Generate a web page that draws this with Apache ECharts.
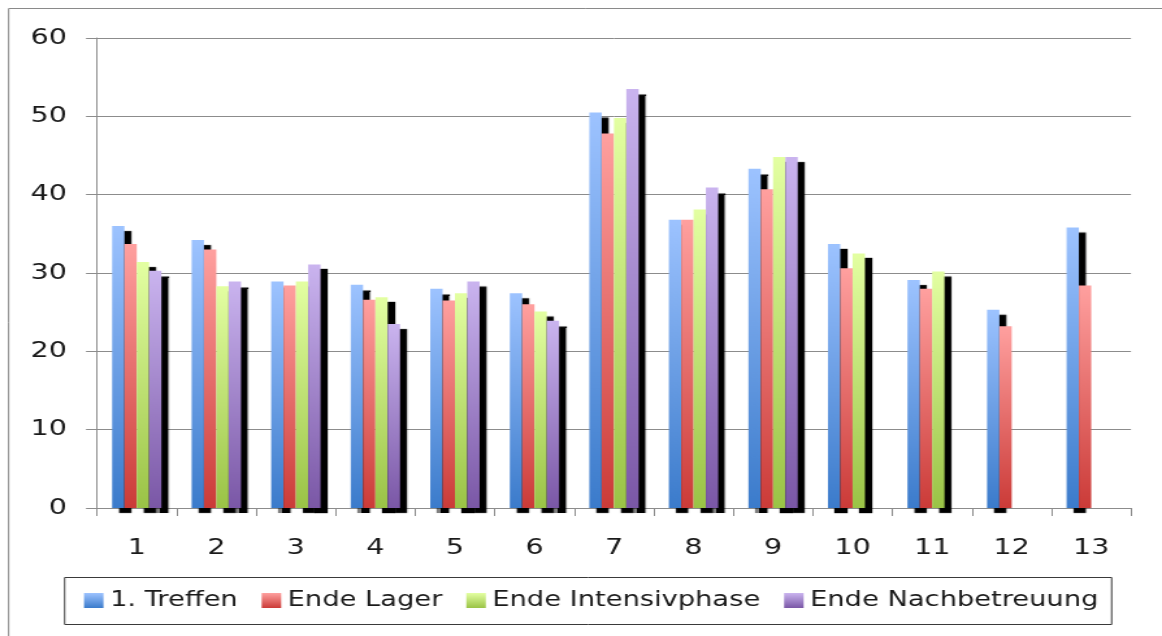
<!DOCTYPE html>
<html>
<head>
<meta charset="utf-8">
<script src="https://cdn.jsdelivr.net/npm/echarts@6/dist/echarts.min.js"></script>
<style>
  html, body { margin: 0; padding: 0; background: #fff; overflow: hidden; }
  /* The chart is laid out on a narrower canvas and widened horizontally,
     which gives the broad lettering and bars of the finished figure. */
  #chart { width: 894px; height: 636px; transform-origin: 0 0; transform: scaleX(1.29978); }
</style>
</head>
<body>
<div id="chart"></div>
<script>
// Measurement points (Treffen 1..13)
const categories = ['1', '2', '3', '4', '5', '6', '7', '8', '9', '10', '11', '12', '13'];

// Values per phase; null where no measurement exists
const treffen       = [36.0, 34.2, 28.9, 28.5, 28.0, 27.4, 50.5, 36.8, 43.3, 33.7, 29.1, 25.3, 35.8];
const endeLager     = [33.7, 33.0, 28.4, 26.6, 26.5, 26.0, 47.8, 36.8, 40.7, 30.6, 28.0, 23.2, 28.4];
const endeIntensiv  = [31.4, 28.3, 28.9, 26.9, 27.4, 25.1, 49.8, 38.1, 44.8, 32.5, 30.2, null, null];
const endeNachbetr  = [30.3, 28.9, 31.1, 23.5, 28.9, 23.9, 53.5, 40.9, 44.8, null, null, null, null];

const seriesNames = ['1. Treffen', 'Ende Lager', 'Ende Intensivphase', 'Ende Nachbetreuung'];
const valueTicks = [0, 10, 20, 30, 40, 50, 60];

// horizontal stretch applied by CSS; convert on-screen x distances to canvas units
const K = 1162 / 894;
const sx = v => v / K;

const FONT = 'DejaVu Sans';

function grad(top, bottom) {
  return new echarts.graphic.LinearGradient(0, 0, 0, 1, [
    { offset: 0, color: top },
    { offset: 1, color: bottom }
  ]);
}

const palette = [
  grad('#9dc3ff', '#3b7bcb'),
  grad('#ffa09f', '#cb3b38'),
  grad('#e3ffa2', '#9ac346'),
  grad('#cab4ef', '#7a57a6')
];
// Treffen, Intensivphase and Nachbetreuung carry a hard black drop shadow
const shadowed = [true, false, true, true];
const dataSets = [treffen, endeLager, endeIntensiv, endeNachbetr];

const series = dataSets.map((d, i) => ({
  name: seriesNames[i],
  type: 'bar',
  data: d,
  barGap: '0%',
  barCategoryGap: '38%',
  itemStyle: Object.assign({ color: palette[i] }, shadowed[i] ? {
    shadowColor: '#000',
    shadowBlur: 1,
    shadowOffsetX: sx(7),
    shadowOffsetY: 5
  } : {}),
  emphasis: { disabled: true }
}));

const chart = echarts.init(document.getElementById('chart'), null, { renderer: 'canvas' });
chart.setOption({
  backgroundColor: '#fff',
  animation: false,
  grid: { left: sx(97), right: sx(31), top: 38, bottom: 128, containLabel: false },
  xAxis: {
    type: 'category',
    data: categories,
    boundaryGap: true,
    axisLine: { lineStyle: { color: '#8c8c8c', width: 1 } },
    axisTick: { show: true, length: 8, lineStyle: { color: '#8c8c8c' } },
    axisLabel: { color: '#1a1a1a', fontFamily: FONT, fontSize: 22, margin: 29 }
  },
  yAxis: {
    type: 'value',
    min: valueTicks[0],
    max: valueTicks[valueTicks.length - 1],
    interval: 10,
    axisLine: { show: true, lineStyle: { color: '#8c8c8c', width: 1 } },
    axisTick: { show: true, length: sx(11), lineStyle: { color: '#8c8c8c' } },
    axisLabel: { color: '#1a1a1a', fontFamily: FONT, fontSize: 22, margin: sx(30) },
    splitLine: { show: true, lineStyle: { color: '#8c8c8c', width: 1 } }
  },
  legend: {
    data: seriesNames,
    orient: 'horizontal',
    left: sx(84),
    top: 590,
    padding: 0,
    itemWidth: 15,
    itemHeight: 15,
    itemGap: sx(24),
    icon: 'rect',
    itemStyle: { shadowBlur: 0, shadowOffsetX: 0, shadowOffsetY: 0, shadowColor: 'rgba(0,0,0,0)' },
    textStyle: { color: '#1a1a1a', fontFamily: FONT, fontSize: 21 },
    selectedMode: false
  },
  graphic: [
    {
      type: 'rect',
      silent: true,
      shape: { x: sx(8) + 0.5, y: 8.5, width: 3000, height: 3000 },
      style: { fill: 'none', stroke: '#8a8a8a', lineWidth: 1 },
      z: -1
    },
    {
      type: 'rect',
      silent: true,
      shape: { x: sx(64) + 0.5, y: 577.5, width: sx(1047), height: 47 },
      style: { fill: 'none', stroke: '#3a3a3a', lineWidth: 1 },
      z: -1
    }
  ],
  series: series
});
</script>
</body>
</html>
